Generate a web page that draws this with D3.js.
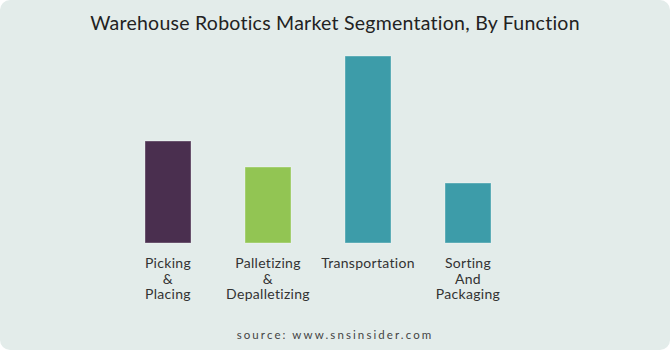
<!DOCTYPE html>
<html lang="en">
<head>
    <meta charset="UTF-8">
    <title>Warehouse Robotics Market Segmentation, By Function</title>
    <style>
        body {
            margin: 0;
            background-color: #ffffff;
            font-family: "Lato", "DejaVu Sans", sans-serif;
        }
        #chart {
            width: 670px;
            height: 350px;
        }
        .label {
            font-size: 14px;
            letter-spacing: 0.3px;
            fill: #333;
        }
    </style>
</head>
<body>
    <div id="chart"></div>
    <script src="https://d3js.org/d3.v7.min.js"></script>
    <script>
        // Chart data
        const categories = ["Picking & Placing", "Palletizing & Depalletizing", "Transportation", "Sorting And Packaging"];
        const labelLines = [["Picking", "&", "Placing"], ["Palletizing", "&", "Depalletizing"], ["Transportation"], ["Sorting", "And", "Packaging"]];
        const values = [10.2, 7.6, 18.7, 6.0];
        const colors = ["#4a2f4f", "#92c553", "#3d9ca9", "#3d9ca9"];

        const width = 670;
        const height = 350;

        const svg = d3.select("#chart").append("svg")
            .attr("width", width)
            .attr("height", height);

        // Card background
        svg.append("rect")
            .attr("width", width)
            .attr("height", height)
            .attr("rx", 10)
            .attr("fill", "#e3ecea");

        // Title
        svg.append("text")
            .attr("x", 335)
            .attr("y", 30)
            .attr("text-anchor", "middle")
            .attr("font-size", 19.5)
            .attr("letter-spacing", 0.25)
            .attr("fill", "#222")
            .text("Warehouse Robotics Market Segmentation, By Function");

        // Scales
        const x = d3.scaleBand()
            .domain(categories)
            .range([118, 518])
            .paddingInner(0.54)
            .paddingOuter(0.27);

        const y = d3.scaleLinear()
            .domain([0, 20])
            .range([243, 43]);

        // Bars
        svg.selectAll(".bar")
            .data(values)
            .enter().append("rect")
            .attr("class", "bar")
            .attr("x", (d, i) => x(categories[i]))
            .attr("y", d => y(d))
            .attr("width", x.bandwidth())
            .attr("height", d => y(0) - y(d))
            .attr("fill", (d, i) => colors[i])
            .attr("stroke", "rgba(255,255,255,0.35)")
            .attr("stroke-width", 1);

        // Category labels
        const labels = svg.selectAll(".label")
            .data(categories)
            .enter().append("text")
            .attr("class", "label")
            .attr("text-anchor", "middle")
            .attr("x", d => x(d) + x.bandwidth() / 2)
            .attr("y", 268);

        labels.each(function(d, i) {
            const t = d3.select(this);
            labelLines[i].forEach((line, j) => {
                t.append("tspan")
                    .attr("x", x(d) + x.bandwidth() / 2)
                    .attr("dy", j === 0 ? 0 : 15.5)
                    .text(line);
            });
        });

        // Source
        svg.append("text")
            .attr("x", 335)
            .attr("y", 339)
            .attr("text-anchor", "middle")
            .attr("font-size", 11.5)
            .attr("letter-spacing", 2.1)
            .attr("fill", "#444")
            .text("source: www.snsinsider.com");
    </script>
</body>
</html>
